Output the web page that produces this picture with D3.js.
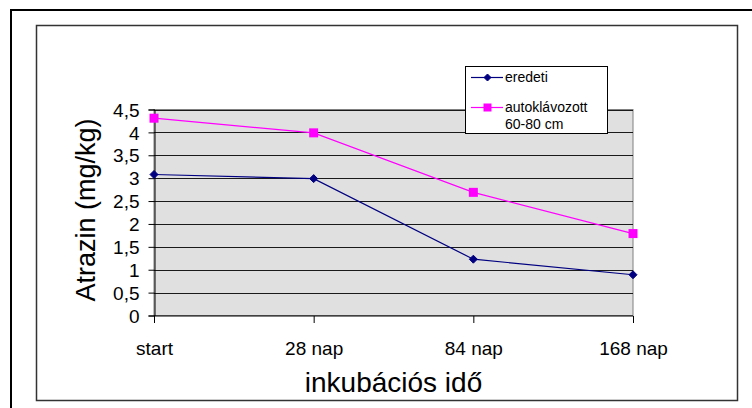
<!DOCTYPE html>
<html>
<head>
<meta charset="utf-8">
<script src="https://cdn.jsdelivr.net/npm/d3@7"></script>
<style>
  html, body { margin: 0; padding: 0; background: #fff; }
  svg { display: block; font-family: "Liberation Sans", Arial, sans-serif; }
</style>
</head>
<body>
<svg id="chart" width="752" height="408"></svg>
<script>
// Sampling times along the x axis
const categories = ["start", "28 nap", "84 nap", "168 nap"];
// Atrazine concentration (mg/kg) per series
const eredeti = [3.08, 2.99, 1.23, 0.89];
const autoklavozott = [4.31, 3.99, 2.69, 1.79];
// Y axis ticks
const yTicks = [0, 0.5, 1, 1.5, 2, 2.5, 3, 3.5, 4, 4.5];

const series = [
  { name: ["eredeti"], values: eredeti, color: "#000080", marker: "diamond" },
  { name: ["autoklávozott", "60-80 cm"], values: autoklavozott, color: "#ff00ff", marker: "square" }
];

const FONT = "Liberation Sans, Arial, sans-serif";
const svg = d3.select("#chart");

// Outer frame and chart area frame
svg.append("rect").attr("x", 11).attr("y", 10).attr("width", 760).attr("height", 420)
  .attr("fill", "none").attr("stroke", "#000").attr("stroke-width", 2);
svg.append("rect").attr("x", 36.5).attr("y", 25.5).attr("width", 701).attr("height", 375)
  .attr("fill", "#fff").attr("stroke", "#333").attr("stroke-width", 1.5);

const plot = { left: 154, right: 633, top: 109.5, bottom: 315.5 };

const x = d3.scalePoint().domain(categories).range([plot.left, plot.right]);
const y = d3.scaleLinear().domain([0, 4.5]).range([plot.bottom, plot.top]);

// Plot area background
svg.append("rect")
  .attr("x", plot.left).attr("y", plot.top)
  .attr("width", plot.right - plot.left).attr("height", plot.bottom - plot.top)
  .attr("fill", "#e0e0e0").attr("stroke", "#808080").attr("stroke-width", 1);

// Horizontal gridlines
svg.append("g").selectAll("line").data(yTicks.filter(d => d > 0)).join("line")
  .attr("x1", plot.left).attr("x2", plot.right)
  .attr("y1", d => Math.round(y(d)) + 0.5).attr("y2", d => Math.round(y(d)) + 0.5)
  .attr("stroke", "#1a1a1a").attr("stroke-width", 1);

// Y axis
const yAxis = svg.append("g").attr("transform", `translate(${plot.left + 0.5},0)`)
  .call(d3.axisLeft(y).tickValues(yTicks).tickSize(6).tickPadding(9)
    .tickFormat(d => String(d).replace(".", ",")));
yAxis.select(".domain").attr("stroke", "#000");
yAxis.selectAll(".tick line").attr("stroke", "#000");
yAxis.selectAll(".tick text").attr("font-size", 19).attr("fill", "#000")
  .attr("font-family", FONT).attr("dy", "0.35em");

// X axis
const xAxis = svg.append("g").attr("transform", `translate(0,${plot.bottom + 0.5})`)
  .call(d3.axisBottom(x).tickSize(7));
xAxis.select(".domain").attr("stroke", "#000").attr("d", `M${plot.left},0H${plot.right}`);
xAxis.selectAll(".tick line").attr("stroke", "#000");
xAxis.selectAll(".tick text").attr("font-size", 19).attr("fill", "#000")
  .attr("font-family", FONT).attr("y", 39).attr("dy", 0);

// Axis titles
svg.append("text")
  .attr("transform", `translate(95,210) rotate(-90)`)
  .attr("text-anchor", "middle").attr("font-size", 27).text("Atrazin (mg/kg)");
svg.append("text")
  .attr("x", (plot.left + plot.right) / 2).attr("y", 392)
  .attr("text-anchor", "middle").attr("font-size", 28).text("inkubációs idő");

// Series lines and markers
const line = d3.line().x((d, i) => x(categories[i])).y(d => y(d));
function drawMarker(g, type, color, size) {
  if (type === "diamond") {
    g.append("path").attr("d", `M0,${-size}L${size},0L0,${size}L${-size},0Z`)
      .attr("fill", color).attr("stroke", color);
  } else {
    g.append("rect").attr("x", -size).attr("y", -size)
      .attr("width", size * 2).attr("height", size * 2).attr("fill", color);
  }
}
series.forEach(s => {
  svg.append("path").datum(s.values).attr("d", line)
    .attr("fill", "none").attr("stroke", s.color).attr("stroke-width", 1.2);
  s.values.forEach((v, i) => {
    const g = svg.append("g").attr("transform", `translate(${x(categories[i])},${y(v)})`);
    drawMarker(g, s.marker, s.color, s.marker === "diamond" ? 4 : 4.5);
  });
});

// Legend
const legend = svg.append("g");
legend.append("rect").attr("x", 465.5).attr("y", 66.5).attr("width", 142).attr("height", 67)
  .attr("fill", "#fff").attr("stroke", "#000").attr("stroke-width", 1);
const legendRows = [77.5, 107.5];
series.forEach((s, i) => {
  const ly = legendRows[i];
  legend.append("line").attr("x1", 471).attr("x2", 503).attr("y1", ly).attr("y2", ly)
    .attr("stroke", s.color).attr("stroke-width", 1.2);
  const g = legend.append("g").attr("transform", `translate(487.5,${ly})`);
  drawMarker(g, s.marker, s.color, s.marker === "diamond" ? 3.5 : 4);
  s.name.forEach((t, j) => {
    legend.append("text").attr("x", 505).attr("y", ly + 4.5 + j * 17)
      .attr("font-size", 14).attr("fill", "#000").text(t);
  });
});
</script>
</body>
</html>
